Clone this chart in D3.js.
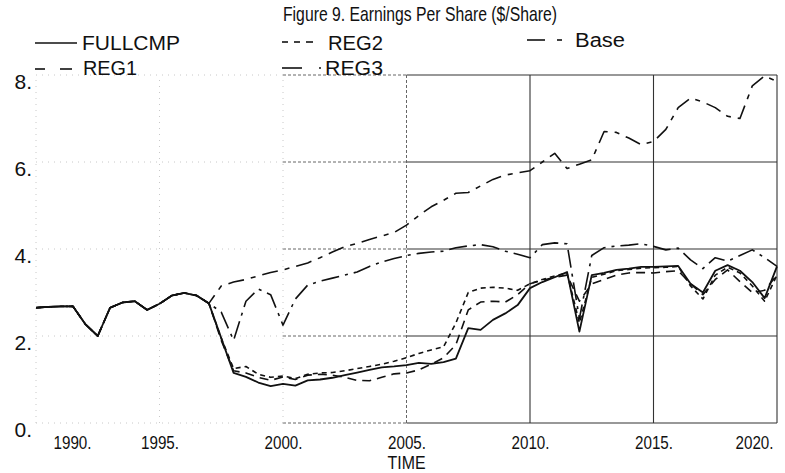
<!DOCTYPE html>
<html>
<head>
<meta charset="utf-8">
<script src="https://cdn.jsdelivr.net/npm/d3@7/dist/d3.min.js"></script>
<style>
  body { margin: 0; background: #fff; }
  svg text { font-family: "Liberation Sans", Arial, sans-serif; fill: #111; }
</style>
</head>
<body>
<svg id="chart" width="785" height="473"></svg>
<script>
//Data (half-year steps)
const years = [1990, 1990.5, 1991, 1991.5, 1992, 1992.5, 1993, 1993.5, 1994, 1994.5,
  1995, 1995.5, 1996, 1996.5, 1997, 1997.5, 1998, 1998.5, 1999, 1999.5,
  2000, 2000.5, 2001, 2001.5, 2002, 2002.5, 2003, 2003.5, 2004, 2004.5,
  2005, 2005.5, 2006, 2006.5, 2007, 2007.5, 2008, 2008.5, 2009, 2009.5,
  2010, 2010.5, 2011, 2011.5, 2012, 2012.5, 2013, 2013.5, 2014, 2014.5,
  2015, 2015.5, 2016, 2016.5, 2017, 2017.5, 2018, 2018.5, 2019, 2019.5, 2020];

const fullcmp = [2.65, 2.67, 2.68, 2.68, 2.27, 2.0, 2.65, 2.77, 2.8, 2.6,
  2.74, 2.93, 2.99, 2.93, 2.75, 1.95, 1.15, 1.06, 0.93, 0.85,
  0.9, 0.86, 0.98, 1.0, 1.04, 1.1, 1.16, 1.22, 1.28, 1.3,
  1.33, 1.38, 1.36, 1.4, 1.48, 2.18, 2.14, 2.37, 2.52, 2.71,
  3.1, 3.24, 3.35, 3.47, 2.1, 3.4, 3.45, 3.52, 3.55, 3.59,
  3.59, 3.6, 3.61, 3.2, 3.0, 3.5, 3.63, 3.5, 3.24, 2.87, 3.6];

const reg1 = [2.65, 2.67, 2.68, 2.68, 2.27, 2.0, 2.65, 2.77, 2.8, 2.6,
  2.74, 2.93, 2.99, 2.93, 2.75, 1.9, 1.2, 1.15, 1.05, 0.98,
  1.06, 1.0, 1.1, 1.12, 1.1, 1.05, 0.98, 0.97, 1.05, 1.13,
  1.15, 1.22, 1.35, 1.5, 1.8, 2.6, 2.78, 2.8, 2.78, 2.95,
  3.2, 3.28, 3.35, 3.4, 2.8, 3.2, 3.3, 3.4, 3.45, 3.46,
  3.45, 3.48, 3.5, 3.2, 2.95, 3.3, 3.52, 3.25, 3.0, 3.05, 3.4];

const reg2 = [2.65, 2.67, 2.68, 2.68, 2.27, 2.0, 2.65, 2.77, 2.8, 2.6,
  2.74, 2.93, 2.99, 2.93, 2.75, 1.95, 1.25, 1.3, 1.12, 1.05,
  1.08, 1.02, 1.12, 1.15, 1.16, 1.2, 1.25, 1.3, 1.35, 1.42,
  1.5, 1.6, 1.68, 1.75, 2.3, 3.0, 3.1, 3.12, 3.1, 3.05,
  3.2, 3.3, 3.38, 3.45, 2.3, 3.35, 3.42, 3.5, 3.53, 3.56,
  3.57, 3.58, 3.6, 3.15, 2.85, 3.4, 3.58, 3.45, 3.15, 2.8, 3.4];

const reg3 = [2.65, 2.67, 2.68, 2.68, 2.27, 2.0, 2.65, 2.77, 2.8, 2.6,
  2.74, 2.93, 2.99, 2.93, 2.75, 2.55, 1.9, 2.8, 3.08, 2.95,
  2.25, 2.85, 3.17, 3.26, 3.33, 3.4, 3.47, 3.6, 3.7, 3.78,
  3.85, 3.9, 3.93, 3.95, 4.03, 4.07, 4.1, 4.05, 3.95, 3.88,
  3.8, 4.1, 4.14, 4.12, 2.4, 3.85, 4.03, 4.07, 4.09, 4.12,
  4.06, 3.98, 4.02, 3.75, 3.55, 3.8, 3.72, 3.85, 3.98, 3.8, 3.6];

const base = [2.65, 2.67, 2.68, 2.68, 2.27, 2.0, 2.65, 2.77, 2.8, 2.6,
  2.74, 2.93, 2.99, 2.93, 2.75, 3.15, 3.24, 3.3, 3.38, 3.46,
  3.52, 3.6, 3.68, 3.8, 3.93, 4.05, 4.13, 4.22, 4.3, 4.38,
  4.55, 4.77, 4.97, 5.12, 5.28, 5.3, 5.45, 5.6, 5.7, 5.75,
  5.8, 6.0, 6.2, 5.85, 5.95, 6.05, 6.7, 6.68, 6.55, 6.4,
  6.47, 6.75, 7.25, 7.47, 7.38, 7.25, 7.05, 7.0, 7.75, 7.98, 7.85];

const seriesNames = ["FULLCMP", "REG1", "REG2", "REG3", "Base"];
const xTicks = [1990, 1995, 2000, 2005, 2010, 2015, 2020];
const yTicks = [0, 2, 4, 6, 8];
const gridYears = [1995, 2000, 2005, 2010, 2015];
const gridValues = [2, 4, 6];

//Line styles per series (dash patterns)
const dashes = { FULLCMP: null, REG1: "9,6", REG2: "5,4", REG3: "18,6,3,6", Base: "16,7,5,7" };
const seriesValues = { FULLCMP: fullcmp, REG1: reg1, REG2: reg2, REG3: reg3, Base: base };

const svg = d3.select("#chart");

//Scales
let xScale = d3.scaleLinear().domain([1990, 2020]).range([36, 777]);
let yScale = d3.scaleLinear().domain([0, 8]).range([423, 75]);

//Frame and grid: the scan is faint on the left, solid on the right
function segment(x1, y1, x2, y2, look) {
    const s = svg.append("line")
        .attr("x1", x1).attr("y1", y1).attr("x2", x2).attr("y2", y2)
        .attr("fill", "none");
    if (look === "faint") s.attr("stroke", "#c8c8c8").attr("stroke-width", 1).attr("stroke-dasharray", "1,5");
    else if (look === "dotted") s.attr("stroke", "#666").attr("stroke-width", 1).attr("stroke-dasharray", "3,2");
    else s.attr("stroke", "#333").attr("stroke-width", 1.1);
}

const x0 = xScale(1990), x2000 = xScale(2000), x2005 = xScale(2005), xEnd = xScale(2020);
gridValues.concat([0, 8]).forEach(v => {
    segment(x0, yScale(v), x2000, yScale(v), "faint");
    segment(x2000, yScale(v), x2005, yScale(v), "dotted");
    segment(x2005, yScale(v), xEnd, yScale(v), "solid");
});
gridYears.forEach(t => {
    const look = t < 2005 ? "faint" : (t === 2005 ? "dotted" : "solid");
    segment(xScale(t), yScale(0), xScale(t), yScale(8), look);
});
segment(x0, yScale(0), x0, yScale(8), "faint");
segment(xEnd, yScale(0), xEnd, yScale(8), "solid");

//Series lines
const line = d3.line()
    .x((d, i) => xScale(years[i]))
    .y(d => yScale(d));

seriesNames.slice().reverse().forEach(name => {
    svg.append("path")
        .datum(seriesValues[name])
        .attr("fill", "none")
        .attr("stroke", "#111")
        .attr("stroke-width", name === "FULLCMP" ? 1.8 : 1.6)
        .attr("stroke-linejoin", "round")
        .attr("stroke-dasharray", dashes[name])
        .attr("d", line);
});

//Y axis
const yAxis = svg.append("g")
    .attr("transform", "translate(32,0)")
    .call(d3.axisLeft(yScale).tickValues(yTicks).tickSize(0).tickPadding(0).tickFormat(d => d + "."));
yAxis.select(".domain").remove();
yAxis.attr("font-size", 21).attr("font-family", null);
yAxis.selectAll("text").attr("dy", "0.62em").attr("fill", "#111");

//X axis (end labels pulled inside the frame)
const xAxis = svg.append("g")
    .attr("transform", `translate(0,${yScale(0)})`)
    .call(d3.axisBottom(xScale).tickValues(xTicks).tickSize(0).tickFormat(d => d + "."));
xAxis.select(".domain").remove();
xAxis.attr("font-size", 19).attr("font-family", null);
xAxis.selectAll("text")
    .attr("y", 26).attr("dy", 0).attr("fill", "#111")
    .attr("textLength", 38).attr("lengthAdjust", "spacingAndGlyphs")
    .attr("x", d => {
        const c = xScale(d);
        return Math.max(72, Math.min(754, c)) - c;
    });

svg.append("text")
    .attr("x", xScale(2005)).attr("y", 469)
    .attr("text-anchor", "middle").attr("font-size", 18)
    .attr("textLength", 38).attr("lengthAdjust", "spacingAndGlyphs")
    .text("TIME");

//Title
svg.append("text")
    .attr("x", 283).attr("y", 21)
    .attr("font-size", 21)
    .attr("textLength", 274).attr("lengthAdjust", "spacingAndGlyphs")
    .text("Figure 9.  Earnings Per Share ($/Share)");

//Legend
const legendItems = [
    { name: "FULLCMP", segs: [[35, 77]], ly: 43, tx: 82, ty: 50, tw: 98 },
    { name: "REG2", segs: [[282, 288], [294, 300], [306, 313]], ly: 42, tx: 328, ty: 50, tw: 55 },
    { name: "Base", segs: [[527, 545], [557, 562]], ly: 40, tx: 575, ty: 47, tw: 50 },
    { name: "REG1", segs: [[35, 45], [60, 72]], ly: 69, tx: 83, ty: 75, tw: 54 },
    { name: "REG3", segs: [[282, 302], [319, 321]], ly: 68, tx: 325, ty: 75, tw: 58 }
];

legendItems.forEach(item => {
    item.segs.forEach(s => {
        svg.append("line")
            .attr("x1", s[0]).attr("x2", s[1])
            .attr("y1", item.ly).attr("y2", item.ly)
            .attr("stroke", "#111").attr("stroke-width", 1.6);
    });
    svg.append("text")
        .attr("x", item.tx).attr("y", item.ty)
        .attr("font-size", 20)
        .attr("textLength", item.tw).attr("lengthAdjust", "spacingAndGlyphs")
        .text(item.name);
});
</script>
</body>
</html>
